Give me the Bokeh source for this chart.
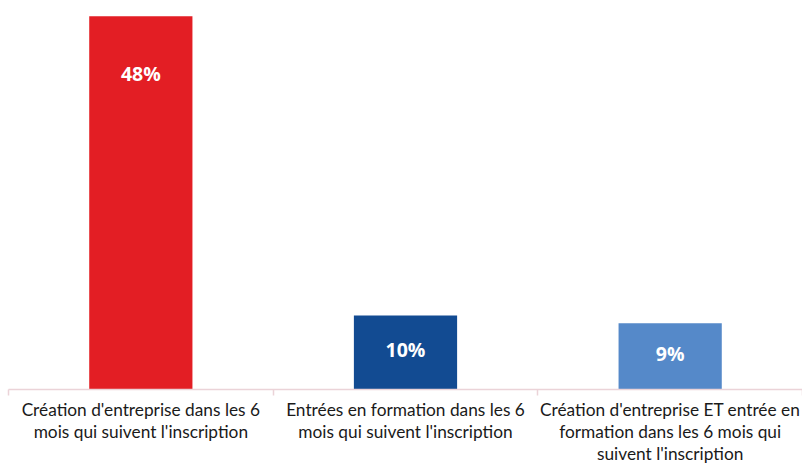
from bokeh.plotting import figure
from bokeh.models import ColumnDataSource, Range1d, LinearAxis, FixedTicker
from bokeh.core.properties import value
from bokeh.embed import file_html
from bokeh.resources import INLINE

categories = [
    "Création d'entreprise dans les 6\nmois qui suivent l'inscription",
    "Entrées en formation dans les 6\nmois qui suivent l'inscription",
    "Création d'entreprise ET entrée en\nformation dans les 6 mois qui\nsuivent l'inscription",
]
values = [48, 10, 9]
labels = ["48%", "10%", "9%"]
colors = ["#E31E24", "#124B92", "#5589C9"]

n = len(categories)
centers = [i + 0.5 for i in range(n)]
bounds = list(range(n + 1))
y0 = 0.6
label_y = [v - min(7.3, (v - y0) * 0.46) for v in values]

src = ColumnDataSource(dict(x=centers, val=values, lab=labels,
                            col=colors, ly=label_y))

p = figure(x_range=Range1d(0, n), y_range=Range1d(y0, 48.1),
           width=802, height=466, output_backend="svg", toolbar_location=None,
           x_axis_location=None, y_axis_location=None,
           min_border_left=8, min_border_right=0, min_border_top=15,
           min_border_bottom=77)
p.outline_line_color = None
p.grid.visible = False
p.background_fill_color = "white"
p.border_fill_color = "white"

p.vbar(x="x", top="val", bottom=y0, width=0.39, fill_color="col",
       line_color=None, source=src)

p.text(x="x", y="ly", text="lab", source=src, text_color="white",
       text_font=value("Open Sans"), text_font_style="bold",
       text_font_size="19.5px", text_align="center", text_baseline="middle")

cat_axis = LinearAxis(ticker=FixedTicker(ticks=centers, minor_ticks=bounds))
cat_axis.major_label_overrides = {c: lab for c, lab in zip(centers, categories)}
cat_axis.axis_line_color = "#EBD3D8"
cat_axis.axis_line_width = 1.5
cat_axis.major_tick_line_color = None
cat_axis.major_tick_out = 6
cat_axis.major_tick_in = 0
cat_axis.minor_tick_line_color = "#EBD3D8"
cat_axis.minor_tick_line_width = 1.5
cat_axis.minor_tick_out = 6
cat_axis.minor_tick_in = 0
cat_axis.major_label_text_font = "Lato"
cat_axis.major_label_text_font_size = "17.3px"
cat_axis.major_label_text_color = "#1a1a1a"
cat_axis.major_label_standoff = 3
cat_axis.major_label_text_line_height = 1.05
p.add_layout(cat_axis, "below")

open("out.html", "w").write(file_html(p, INLINE))
